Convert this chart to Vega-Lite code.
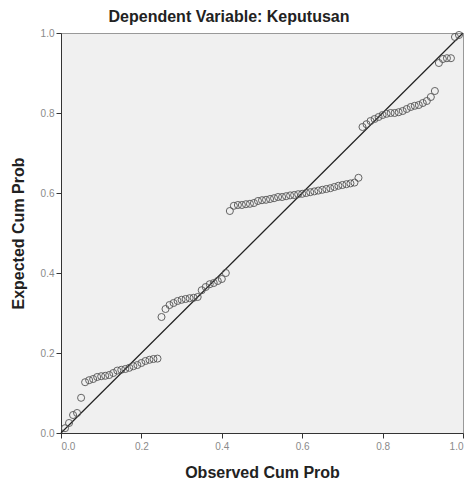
{
  "$schema": "https://vega.github.io/schema/vega-lite/v6.json",
  "width": 402,
  "height": 400,
  "autosize": "none",
  "padding": {"left": 61, "top": 33, "right": 12, "bottom": 54},
  "background": "white",
  "config": {
    "view": {"fill": "#f0f0f0", "stroke": "#999999", "strokeWidth": 1},
    "font": "Liberation Sans"
  },
  "title": {
    "text": "Dependent Variable: Keputusan",
    "fontSize": 16,
    "fontWeight": "bold",
    "color": "#222222",
    "anchor": "middle",
    "dx": -33,
    "offset": 3
  },
  "datasets": {
    "pts": [
      {"obs": 0.01, "exp": 0.012}, {"obs": 0.02, "exp": 0.025}, {"obs": 0.03, "exp": 0.045}, {"obs": 0.04, "exp": 0.05},
      {"obs": 0.05, "exp": 0.088}, {"obs": 0.06, "exp": 0.127}, {"obs": 0.07, "exp": 0.132}, {"obs": 0.08, "exp": 0.135},
      {"obs": 0.09, "exp": 0.14}, {"obs": 0.10, "exp": 0.142}, {"obs": 0.11, "exp": 0.143}, {"obs": 0.12, "exp": 0.145},
      {"obs": 0.13, "exp": 0.15}, {"obs": 0.14, "exp": 0.156}, {"obs": 0.15, "exp": 0.158}, {"obs": 0.16, "exp": 0.16},
      {"obs": 0.17, "exp": 0.163}, {"obs": 0.18, "exp": 0.167}, {"obs": 0.19, "exp": 0.17}, {"obs": 0.20, "exp": 0.175},
      {"obs": 0.21, "exp": 0.18}, {"obs": 0.22, "exp": 0.183}, {"obs": 0.23, "exp": 0.185}, {"obs": 0.24, "exp": 0.186},
      {"obs": 0.25, "exp": 0.29}, {"obs": 0.26, "exp": 0.31}, {"obs": 0.27, "exp": 0.32}, {"obs": 0.28, "exp": 0.325},
      {"obs": 0.29, "exp": 0.33}, {"obs": 0.30, "exp": 0.333}, {"obs": 0.31, "exp": 0.335}, {"obs": 0.32, "exp": 0.337},
      {"obs": 0.33, "exp": 0.338}, {"obs": 0.34, "exp": 0.34}, {"obs": 0.35, "exp": 0.357}, {"obs": 0.36, "exp": 0.365},
      {"obs": 0.37, "exp": 0.372}, {"obs": 0.38, "exp": 0.375}, {"obs": 0.39, "exp": 0.38}, {"obs": 0.40, "exp": 0.385},
      {"obs": 0.41, "exp": 0.40},
      {"obs": 0.42, "exp": 0.555}, {"obs": 0.43, "exp": 0.568}, {"obs": 0.44, "exp": 0.57}, {"obs": 0.45, "exp": 0.57},
      {"obs": 0.46, "exp": 0.572}, {"obs": 0.47, "exp": 0.573}, {"obs": 0.48, "exp": 0.575}, {"obs": 0.49, "exp": 0.58},
      {"obs": 0.50, "exp": 0.582}, {"obs": 0.51, "exp": 0.583}, {"obs": 0.52, "exp": 0.585}, {"obs": 0.53, "exp": 0.587},
      {"obs": 0.54, "exp": 0.59}, {"obs": 0.55, "exp": 0.59}, {"obs": 0.56, "exp": 0.592}, {"obs": 0.57, "exp": 0.594},
      {"obs": 0.58, "exp": 0.595}, {"obs": 0.59, "exp": 0.597}, {"obs": 0.60, "exp": 0.598}, {"obs": 0.61, "exp": 0.60},
      {"obs": 0.62, "exp": 0.602}, {"obs": 0.63, "exp": 0.604}, {"obs": 0.64, "exp": 0.606}, {"obs": 0.65, "exp": 0.608},
      {"obs": 0.66, "exp": 0.61}, {"obs": 0.67, "exp": 0.612}, {"obs": 0.68, "exp": 0.615}, {"obs": 0.69, "exp": 0.618},
      {"obs": 0.70, "exp": 0.62}, {"obs": 0.71, "exp": 0.622}, {"obs": 0.72, "exp": 0.624}, {"obs": 0.73, "exp": 0.626},
      {"obs": 0.74, "exp": 0.638},
      {"obs": 0.75, "exp": 0.765}, {"obs": 0.76, "exp": 0.772}, {"obs": 0.77, "exp": 0.78}, {"obs": 0.78, "exp": 0.785},
      {"obs": 0.79, "exp": 0.79}, {"obs": 0.80, "exp": 0.795}, {"obs": 0.81, "exp": 0.798}, {"obs": 0.82, "exp": 0.80},
      {"obs": 0.83, "exp": 0.80}, {"obs": 0.84, "exp": 0.802}, {"obs": 0.85, "exp": 0.805}, {"obs": 0.86, "exp": 0.81},
      {"obs": 0.87, "exp": 0.815}, {"obs": 0.88, "exp": 0.818}, {"obs": 0.89, "exp": 0.82}, {"obs": 0.90, "exp": 0.825},
      {"obs": 0.91, "exp": 0.83}, {"obs": 0.92, "exp": 0.84}, {"obs": 0.93, "exp": 0.855},
      {"obs": 0.94, "exp": 0.925}, {"obs": 0.95, "exp": 0.935}, {"obs": 0.96, "exp": 0.937}, {"obs": 0.97, "exp": 0.937},
      {"obs": 0.98, "exp": 0.99}, {"obs": 0.99, "exp": 0.995}
    ],
    "diag": [{"obs": 0, "exp": 0}, {"obs": 1, "exp": 1}]
  },
  "encoding": {
    "x": {
      "field": "obs", "type": "quantitative",
      "scale": {"domain": [0, 1], "nice": false, "zero": false},
      "axis": {
        "title": "Observed Cum Prob", "values": [0, 0.2, 0.4, 0.6, 0.8, 1.0], "format": ".1f",
        "grid": false, "domainColor": "#333333", "tickColor": "#333333", "tickSize": 5,
        "labelColor": "#8a8a8a", "labelFontSize": 10, "labelPadding": 3,
        "titleFontSize": 16, "titleFontWeight": "bold", "titleColor": "#222222", "titlePadding": 13
      }
    },
    "y": {
      "field": "exp", "type": "quantitative",
      "scale": {"domain": [0, 1], "nice": false, "zero": false},
      "axis": {
        "title": "Expected Cum Prob", "values": [0, 0.2, 0.4, 0.6, 0.8, 1.0], "format": ".1f",
        "grid": false, "domainColor": "#333333", "tickColor": "#333333", "tickSize": 5,
        "labelColor": "#8a8a8a", "labelFontSize": 10, "labelPadding": 2,
        "titleFontSize": 16, "titleFontWeight": "bold", "titleColor": "#222222",
        "titleX": -43, "titleY": 200, "titleAngle": -90, "titleBaseline": "middle", "titleAlign": "center"
      }
    }
  },
  "layer": [
    {
      "data": {"name": "diag"},
      "mark": {"type": "line", "color": "#222222", "strokeWidth": 1.2},
      "encoding": {}
    },
    {
      "data": {"name": "pts"},
      "mark": {"type": "point", "shape": "circle", "filled": false, "size": 50, "stroke": "#555555", "strokeWidth": 1, "opacity": 0.9},
      "encoding": {}
    }
  ]
}
